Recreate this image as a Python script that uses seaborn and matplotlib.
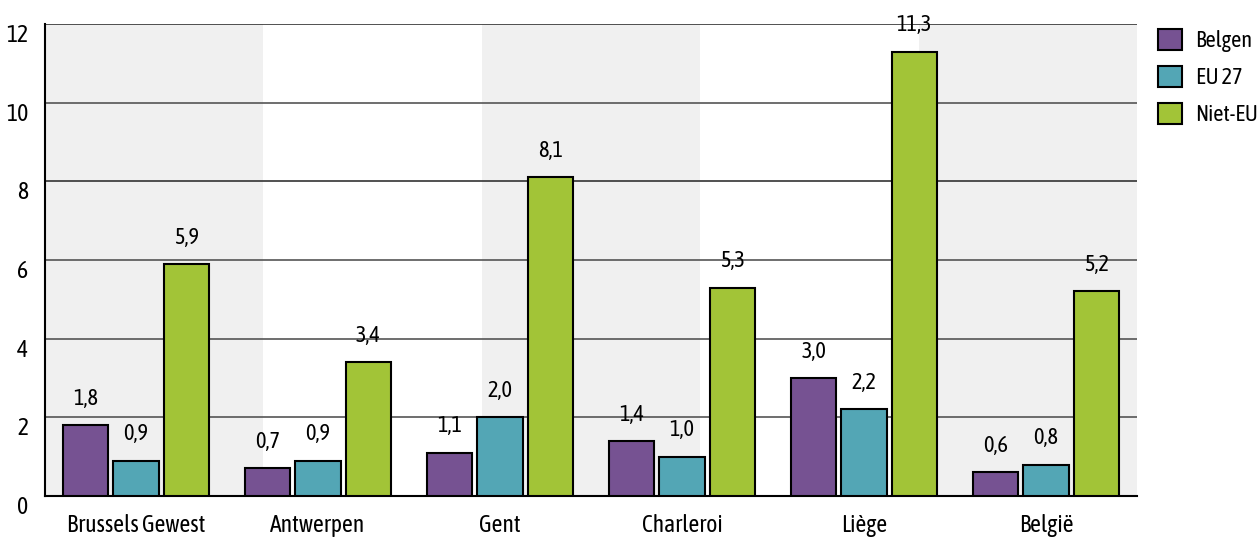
import seaborn as sns
import pandas as pd
import matplotlib.pyplot as plt
from matplotlib.transforms import ScaledTranslation

regions = ['Brussels Gewest', 'Antwerpen', 'Gent', 'Charleroi', 'Liège', 'België']
groups = ['Belgen', 'EU 27', 'Niet-EU']
belgen = [1.8, 0.7, 1.1, 1.4, 3.0, 0.6]
eu27 = [0.9, 0.9, 2.0, 1.0, 2.2, 0.8]
niet_eu = [5.9, 3.4, 8.1, 5.3, 11.3, 5.2]
yticks = [0, 2, 4, 6, 8, 10, 12]

df = pd.DataFrame({
    'regio': regions * 3,
    'groep': [g for g in groups for _ in regions],
    'waarde': belgen + eu27 + niet_eu,
})

sns.set_style('white')
plt.rcParams['font.family'] = ['Asap Condensed', 'DejaVu Sans']
plt.rcParams['text.color'] = 'black'
plt.rcParams['xtick.color'] = 'black'
plt.rcParams['ytick.color'] = 'black'

fig = plt.figure(figsize=(12.6, 5.4), dpi=100)
ax = fig.add_axes([0.0357, 0.0815, 0.8667, 0.874])

# alternating background bands
for start in [-0.5, 1.9, 4.3]:
    ax.axvspan(start, start + 1.2, color='#f0f0f0', zorder=0, lw=0)

sns.barplot(data=df, x='regio', y='waarde', hue='groep', order=regions, hue_order=groups,
            palette=['#765292', '#53a6b5', '#a2c437'], width=0.83, gap=0.1,
            edgecolor='black', linewidth=1.5, saturation=1, ax=ax, zorder=3)

for cont in ax.containers:
    labs = [f'{b.get_height():.1f}'.replace('.', ',') for b in cont]
    ax.bar_label(cont, labels=labs, padding=11, fontsize=16)

ax.set_xlim(-0.5, 5.5)
ax.set_ylim(0, 12)
ax.set_yticks(yticks)
ax.set_yticklabels([str(t) for t in yticks])
ax.set_xlabel('')
ax.set_ylabel('')
for t in yticks[1:]:
    ax.axhline(t, color='#333333' if t in (8, 12) else '#555555', lw=1.2, zorder=1)
ax.tick_params(axis='both', length=0, labelsize=17)
ax.tick_params(axis='x', pad=13)
ax.tick_params(axis='y', pad=12)
shift = ScaledTranslation(0, -0.09, fig.dpi_scale_trans)
for lab in ax.get_yticklabels():
    lab.set_transform(lab.get_transform() + shift)
for side in ['top', 'right']:
    ax.spines[side].set_visible(False)
for side in ['left', 'bottom']:
    ax.spines[side].set_color('black')
    ax.spines[side].set_linewidth(1.5)

handles, labels = ax.get_legend_handles_labels()
ax.legend(handles, labels, loc='upper left', bbox_to_anchor=(1.019, 0.99), frameon=False,
          fontsize=16, handlelength=1.1, handleheight=1.1, labelspacing=0.62,
          handletextpad=0.6, borderaxespad=0, borderpad=0)

fig.savefig('out.png', dpi=100)
